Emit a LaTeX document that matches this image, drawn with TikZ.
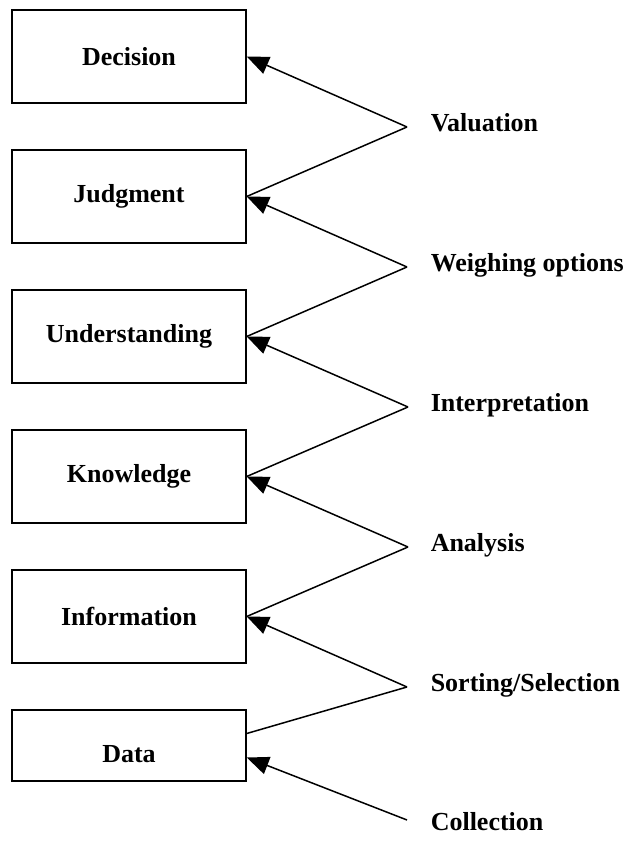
\documentclass[tikz,border=0pt]{standalone}
\usepackage{fontspec}
\setmainfont{Liberation Serif}
\usetikzlibrary{arrows.meta}

\begin{document}
\begin{tikzpicture}[x=0.5pt, y=0.5pt, line width=0.75pt,
  box/.style = {draw, rectangle, minimum width=117pt, minimum height=46.5pt, font=\bfseries\fontsize{13}{15}\selectfont},
  lbl/.style = {inner sep=0pt, anchor=base west, font=\bfseries\fontsize{13}{15}\selectfont},
  arr/.style = {-{Triangle[length=11pt,width=9pt]}}]
\useasboundingbox (0,0) rectangle (637,862);
% boxes
\node[box] (dec) at (129,805.5) {Decision};
\node[box] (jud) at (129,665.5) {Judgment};
\node[box] (und) at (129,525.5) {Understanding};
\node[box] (kno) at (129,385.5) {Knowledge};
\node[box] (inf) at (129,245.5) {Information};
\node[box, minimum height=35.5pt, text height=17pt] (dat) at (129,116.5) {Data};
% steps
\coordinate (val) at (407,735);
\coordinate (wei) at (407,595);
\coordinate (int) at (408,455);
\coordinate (ana) at (408,315);
\coordinate (sor) at (407,175);
\coordinate (col) at (407,42);
\node[lbl] (lval) at ([xshift=11.5pt,yshift=-2.5pt]val) {Valuation};
\node[lbl] (lwei) at ([xshift=11.5pt,yshift=-2.5pt]wei) {Weighing options};
\node[lbl] (lint) at ([xshift=11pt,yshift=-2.5pt]int) {Interpretation};
\node[lbl] (lana) at ([xshift=11pt,yshift=-2.5pt]ana) {Analysis};
\node[lbl] (lsor) at ([xshift=11.5pt,yshift=-2.5pt]sor) {Sorting/Selection};
\node[lbl] (lcol) at ([xshift=11.5pt,yshift=-5pt]col) {Collection};
% connectors
\draw[arr] (val) -- (dec.east);
\draw (val) -- (jud.east);
\draw[arr] (wei) -- (jud.east);
\draw (wei) -- (und.east);
\draw[arr] (int) -- (und.east);
\draw (int) -- (kno.east);
\draw[arr] (ana) -- (kno.east);
\draw (ana) -- (inf.east);
\draw[arr] (sor) -- (inf.east);
\draw (sor) -- ([yshift=6pt]dat.east);
\draw[arr] (col) -- ([yshift=-6pt]dat.east);
\end{tikzpicture}
\end{document}
